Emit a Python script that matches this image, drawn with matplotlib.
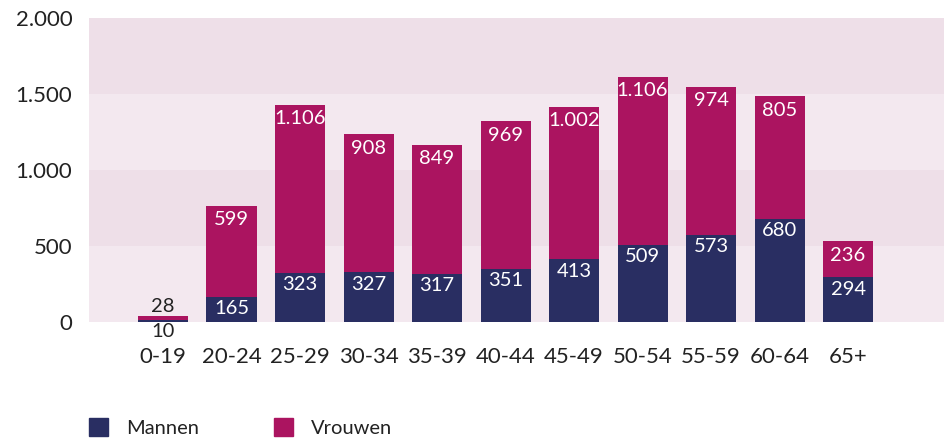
import numpy as np
import matplotlib.pyplot as plt
from matplotlib.patches import Patch

plt.rcParams['font.family'] = ['Lato', 'DejaVu Sans']

groepen = ['0-19', '20-24', '25-29', '30-34', '35-39', '40-44', '45-49',
           '50-54', '55-59', '60-64', '65+']
mannen = [10, 165, 323, 327, 317, 351, 413, 509, 573, 680, 294]
vrouwen = [28, 599, 1106, 908, 849, 969, 1002, 1106, 974, 805, 236]

blauw = '#292e62'
roze = '#ab1460'
tekst = '#222222'


def nl(v):
    return f'{v:,}'.replace(',', '.')


fig = plt.figure(figsize=(9.44, 4.40), dpi=100)
ax = fig.add_axes([89 / 944, 1 - 322 / 440, 1 - 89 / 944, 304 / 440])

# achtergrondbanden
banden = ['#f3e8ef', '#eedfe8', '#f3e8ef', '#eedfe8']
for i, c in enumerate(banden):
    ax.axhspan(i * 500, (i + 1) * 500, color=c, lw=0, zorder=0)

x = np.arange(len(groepen))
ax.bar(x, mannen, width=0.73, color=blauw, zorder=2)
ax.bar(x, vrouwen, width=0.73, bottom=mannen, color=roze, zorder=2)

fs = 14.5
for i, (m, v) in enumerate(zip(mannen, vrouwen)):
    if m + v < 100:
        ax.text(i, m + v + 8, nl(v), ha='center', va='bottom', color=tekst, fontsize=fs)
        ax.text(i, -8, nl(m), ha='center', va='top', color=tekst, fontsize=fs)
        continue
    ax.text(i, m - 78, nl(m), ha='center', va='center', color='white', fontsize=fs, zorder=3)
    ax.text(i, m + v - 92, nl(v), ha='center', va='center', color='white', fontsize=fs, zorder=3)

ax.set_xlim(-1.08, 11.4)
ax.set_ylim(0, 2000)
ax.set_yticks([0, 500, 1000, 1500, 2000])
ax.set_yticklabels([nl(t) for t in [0, 500, 1000, 1500, 2000]])
ax.set_xticks(x)
ax.set_xticklabels(groepen)
ax.tick_params(axis='both', length=0, labelsize=16, labelcolor=tekst)
ax.tick_params(axis='x', pad=18)
ax.tick_params(axis='y', pad=12)
for s in ax.spines.values():
    s.set_visible(False)

handles = [Patch(color=blauw, label='Mannen'), Patch(color=roze, label='Vrouwen')]
fig.legend(handles=handles, loc='lower left', bbox_to_anchor=(89 / 944, 3 / 440),
           ncol=2, frameon=False, fontsize=14.5, handlelength=0.95, handleheight=0.95,
           handletextpad=0.9, columnspacing=3.7, labelcolor=tekst,
           borderpad=0, borderaxespad=0)

fig.savefig('out.png', dpi=100)
